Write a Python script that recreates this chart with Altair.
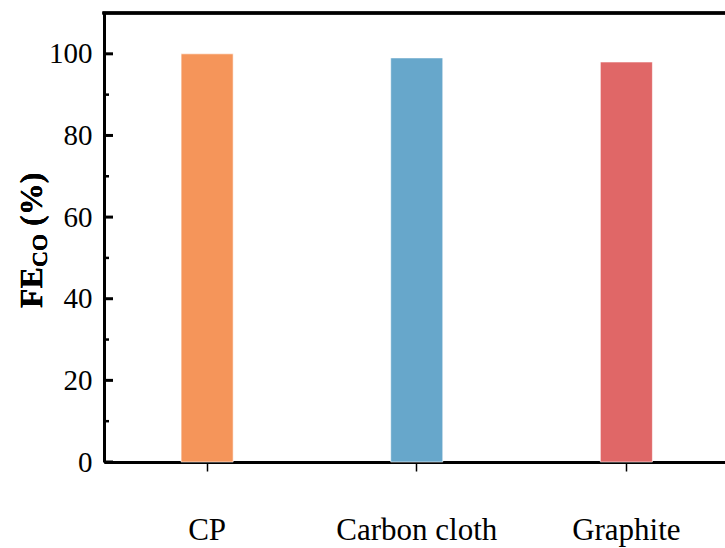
import altair as alt
import pandas as pd

# Faradaic efficiency for CO on each substrate
categories = ["CP", "Carbon cloth", "Graphite"]
fe_co = [100, 99, 98]
bar_colors = ["#F5955A", "#67A7CB", "#E06767"]

major_ticks = [0, 20, 40, 60, 80, 100]
minor_ticks = [10, 30, 50, 70, 90]

PLOT_W = 621
PLOT_H = 449
FONT = "Liberation Serif"

bars_df = pd.DataFrame({"substrate": categories, "fe": fe_co})
major_df = pd.DataFrame({"v": major_ticks})
minor_df = pd.DataFrame({"v": minor_ticks})

y_scale = alt.Scale(domain=[0, 110], nice=False, zero=True)

bars = alt.Chart(bars_df).mark_bar(
    stroke="white", strokeWidth=1, strokeOpacity=0.6
).encode(
    x=alt.X(
        "substrate:N",
        sort=categories,
        scale=alt.Scale(paddingInner=0.7516, paddingOuter=0.357, align=0.515),
        axis=alt.Axis(
            title=None,
            labelAngle=0,
            labelFont=FONT,
            labelFontSize=31,
            labelColor="black",
            labelPadding=44,
            domainColor="black",
            domainWidth=3,
            tickColor="black",
            tickWidth=1.5,
            tickSize=9,
        ),
    ),
    y=alt.Y(
        "fe:Q",
        scale=y_scale,
        axis=alt.Axis(
            title=None,
            values=major_ticks,
            labelFont=FONT,
            labelFontSize=29,
            labelColor="black",
            labelPadding=12,
            ticks=False,
            grid=False,
            domainColor="black",
            domainWidth=3,
        ),
    ),
    color=alt.Color(
        "substrate:N",
        scale=alt.Scale(domain=categories, range=bar_colors),
        legend=None,
    ),
)

# inward-pointing ticks on the left axis
major = alt.Chart(major_df).mark_rule(color="black", strokeWidth=3).encode(
    x=alt.value(0), x2=alt.value(9), y=alt.Y("v:Q", scale=y_scale)
)
minor = alt.Chart(minor_df).mark_rule(color="black", strokeWidth=2.5).encode(
    x=alt.value(0), x2=alt.value(5), y=alt.Y("v:Q", scale=y_scale)
)

# top frame line
top_line = alt.Chart(bars_df).mark_rule(color="black", strokeWidth=3).encode(
    x=alt.value(-1.5), x2=alt.value(PLOT_W), y=alt.value(0)
)

# y-axis title with subscript, rotated
title_fe = alt.Chart(bars_df).mark_text(
    text="FE", font=FONT, fontSize=32, fontWeight="bold", angle=270,
    align="left", baseline="alphabetic", color="black",
).encode(x=alt.value(-62), y=alt.value(295))
title_sub = alt.Chart(bars_df).mark_text(
    text="CO", font=FONT, fontSize=22, fontWeight="bold", angle=270,
    align="left", baseline="alphabetic", color="black",
).encode(x=alt.value(-57), y=alt.value(254))
title_pct = alt.Chart(bars_df).mark_text(
    text="(%)", font=FONT, fontSize=32, fontWeight="bold", angle=270,
    align="left", baseline="alphabetic", color="black",
).encode(x=alt.value(-62), y=alt.value(213))

chart = alt.layer(
    bars, major, minor, top_line, title_fe, title_sub, title_pct
).properties(
    width=PLOT_W,
    height=PLOT_H,
    autosize=alt.AutoSizeParams(type="none"),
    padding={"left": 104, "top": 13, "right": 0, "bottom": 86},
    background="white",
).configure_view(stroke=None)

chart.save("out.html", embed_options={"renderer": "svg", "actions": False})
